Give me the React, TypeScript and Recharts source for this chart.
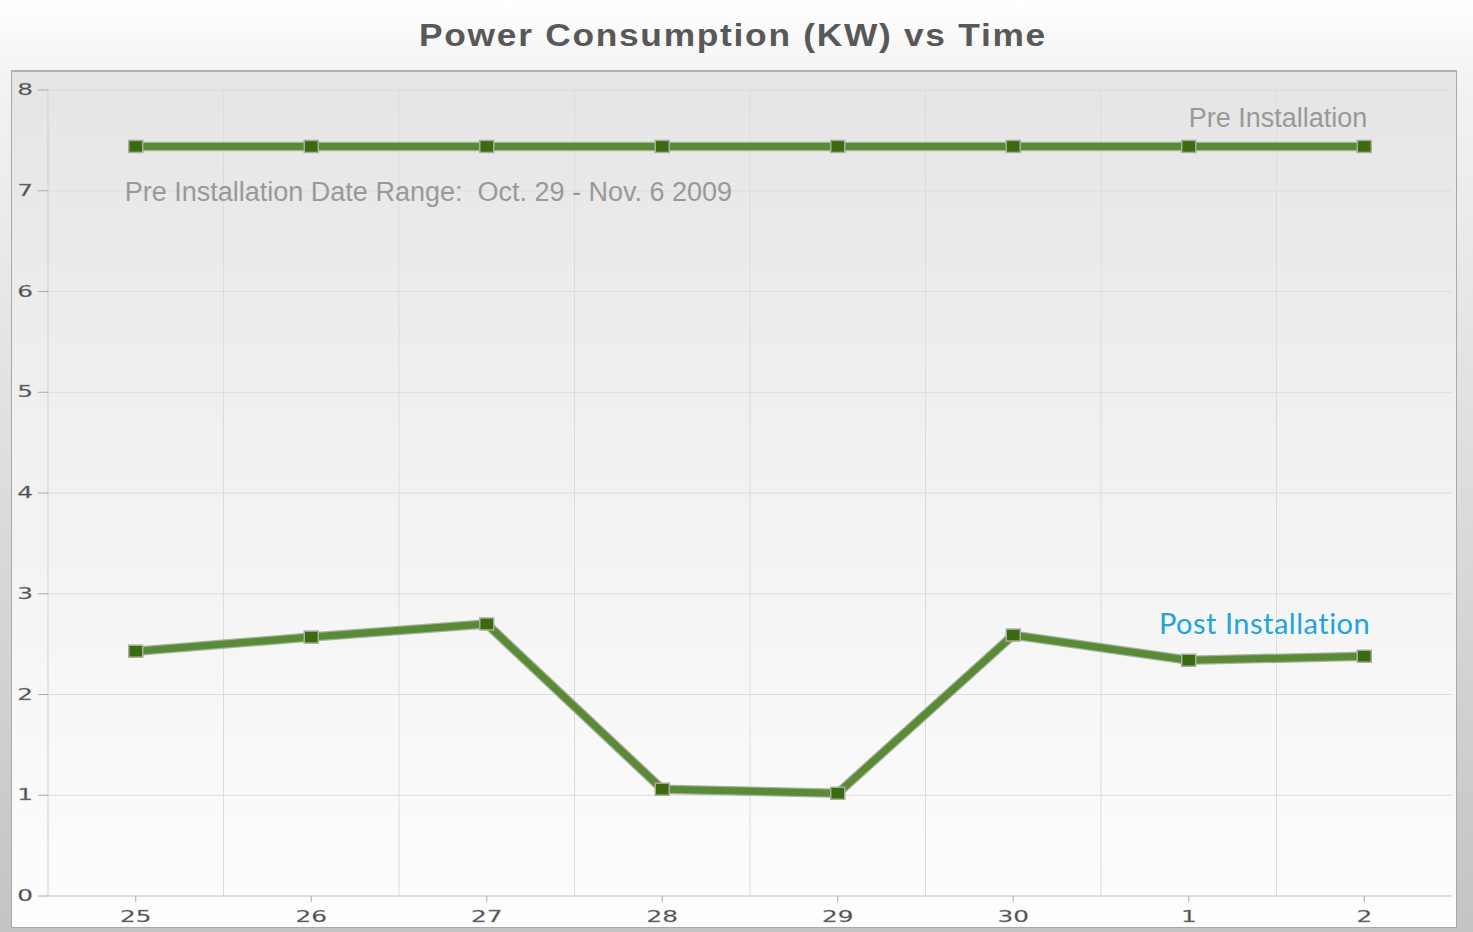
import React from 'react';
import {
  LineChart,
  Line,
  XAxis,
  YAxis,
  CartesianGrid,
  ReferenceLine,
} from 'recharts';

const days = ['25', '26', '27', '28', '29', '30', '1', '2'];
const preInstallation = [7.44, 7.44, 7.44, 7.44, 7.44, 7.44, 7.44, 7.44];
const postInstallation = [2.43, 2.57, 2.7, 1.06, 1.02, 2.59, 2.34, 2.38];
const yTicks = [0, 1, 2, 3, 4, 5, 6, 7, 8];
const titleText = 'Power Consumption (KW) vs Time';
const preLabel = 'Pre Installation';
const postLabel = 'Post Installation';
const dateRangeLabel = 'Pre Installation Date Range:  Oct. 29 - Nov. 6 2009';

const data = days.map((d, i) => ({
  idx: i,
  day: d,
  pre: preInstallation[i],
  post: postInstallation[i],
}));
const xTicks = days.map((_, i) => i);
const boundaries = days.slice(1).map((_, i) => i + 0.5);

const W = 1473;
const H = 932;

const SquareDot = (props: any) => {
  const { cx, cy, index } = props;
  if (cx == null || cy == null) return null;
  return (
    <rect
      key={`dot-${index}`}
      x={cx - 7}
      y={cy - 6}
      width={14}
      height={12}
      fill="#3b6b10"
      stroke="#a8ad9f"
      strokeWidth={1.5}
    />
  );
};

const XTick = (props: any) => {
  const { x, y, payload } = props;
  return (
    <g transform={`translate(${x},${y + 18})`}>
      <text
        transform="scale(1.65,1)"
        textAnchor="middle"
        fill="#4a4a4a"
        fontSize={15}
        fontFamily="DejaVu Sans, sans-serif"
        stroke="#999"
        strokeWidth={0.3}
      >
        {days[payload.value]}
      </text>
    </g>
  );
};

const YTick = (props: any) => {
  const { x, y, payload } = props;
  return (
    <g transform={`translate(${x - 3},${y + 5})`}>
      <text
        transform="scale(1.65,1)"
        textAnchor="end"
        fill="#4a4a4a"
        fontSize={15}
        fontFamily="DejaVu Sans, sans-serif"
        stroke="#999"
        strokeWidth={0.3}
      >
        {payload.value}
      </text>
    </g>
  );
};

const PreLabel = (props: any) => {
  const { x, y, index } = props;
  if (index === 0) {
    return (
      <text
        x={x - 11}
        y={y + 55}
        fill="#999"
        fontSize={27}
        fontFamily="Liberation Sans, Arial, sans-serif"
        style={{ whiteSpace: 'pre' }}
        xmlSpace="preserve"
      >
        {dateRangeLabel}
      </text>
    );
  }
  if (index === days.length - 1) {
    return (
      <text
        x={x + 3}
        y={y - 19}
        textAnchor="end"
        fill="#999"
        fontSize={27}
        fontFamily="Liberation Sans, Arial, sans-serif"
      >
        {preLabel}
      </text>
    );
  }
  return null;
};

const PostLabel = (props: any) => {
  const { x, y, index } = props;
  if (index !== days.length - 1) return null;
  return (
    <text
      x={x + 6}
      y={y - 22}
      textAnchor="end"
      fill="#1ea4df"
      fontSize={29}
      fontFamily="Lato, sans-serif"
      letterSpacing={0.5}
    >
      {postLabel}
    </text>
  );
};

export default function App() {
  return (
    <div
      style={{
        position: 'absolute',
        left: 0,
        top: 0,
        width: W,
        height: H,
        overflow: 'hidden',
        background: 'linear-gradient(#ffffff 0%, #f3f3f3 8%, #c4c4c4 100%)',
      }}
    >
      <div
        style={{
          position: 'absolute',
          left: 0,
          top: 21,
          width: 1466,
          textAlign: 'center',
          fontFamily: 'Liberation Sans, Arial, sans-serif',
          fontWeight: 'bold',
          fontSize: 31,
          lineHeight: '30px',
          color: '#585858',
          letterSpacing: 1.5,
          transform: 'scaleX(1.14)',
          transformOrigin: '733px 0',
        }}
      >
        {titleText}
      </div>
      <div
        style={{
          position: 'absolute',
          left: 11,
          top: 70,
          width: 1446,
          height: 858,
          boxSizing: 'border-box',
          border: '1px solid #a9a9a9',
          borderTop: '2px solid #b0b0b0',
          background: 'linear-gradient(#e5e5e5 0%, #f1f1f1 45%, #fdfdfd 100%)',
        }}
      />
      <div style={{ position: 'absolute', left: 0, top: 0 }}>
        <LineChart
          width={W}
          height={H}
          data={data}
          margin={{ top: 90, right: 21, bottom: 0, left: 0 }}
        >
          <CartesianGrid vertical={false} stroke="#dcdcdc" strokeWidth={1} />
          {boundaries.map((b) => (
            <ReferenceLine key={`b-${b}`} x={b} stroke="#dcdcdc" strokeWidth={1} />
          ))}
          <XAxis
            type="number"
            dataKey="idx"
            domain={[-0.5, days.length - 0.5]}
            ticks={xTicks}
            interval={0}
            height={36}
            axisLine={{ stroke: '#cfcfcf' }}
            tickLine={{ stroke: '#aaa' }}
            tickSize={6}
            tick={<XTick />}
          />
          <YAxis
            type="number"
            domain={[0, 8]}
            ticks={yTicks}
            interval={0}
            width={48}
            axisLine={{ stroke: '#cfcfcf' }}
            tickLine={{ stroke: '#aaa' }}
            tickSize={10}
            tick={<YTick />}
          />
          <Line
            dataKey="pre"
            type="linear"
            stroke="#a9b29c"
            strokeWidth={9.5}
            dot={false}
            activeDot={false}
            isAnimationActive={false}
          />
          <Line
            dataKey="pre"
            type="linear"
            stroke="#5a8a36"
            strokeWidth={7}
            dot={<SquareDot />}
            activeDot={false}
            isAnimationActive={false}
            label={<PreLabel />}
          />
          <Line
            dataKey="post"
            type="linear"
            stroke="#a9b29c"
            strokeWidth={9.5}
            dot={false}
            activeDot={false}
            isAnimationActive={false}
          />
          <Line
            dataKey="post"
            type="linear"
            stroke="#5a8a36"
            strokeWidth={7}
            dot={<SquareDot />}
            activeDot={false}
            isAnimationActive={false}
            label={<PostLabel />}
          />
        </LineChart>
      </div>
    </div>
  );
}
